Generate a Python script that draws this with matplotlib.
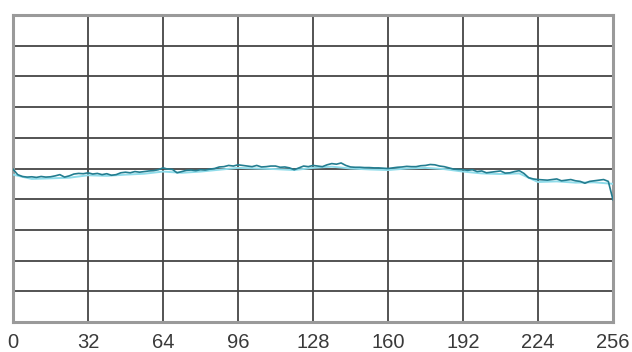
import numpy as np
import matplotlib
matplotlib.use("Agg")
import matplotlib.pyplot as plt

# Sample positions (0..256) and measured levels
x_main = np.arange(0, 257, 2)
y_main = [
    4.98, 4.80, 4.74, 4.72, 4.73, 4.71, 4.74, 4.72, 4.73, 4.76,
    4.80, 4.72, 4.76, 4.82, 4.84, 4.83, 4.86, 4.82, 4.84, 4.80,
    4.83, 4.78, 4.80, 4.86, 4.88, 4.86, 4.90, 4.88, 4.90, 4.92,
    4.93, 4.96, 5.02, 4.98, 4.97, 4.86, 4.90, 4.94, 4.95, 4.93,
    4.96, 4.95, 4.98, 5.00, 5.05, 5.06, 5.10, 5.08, 5.12, 5.10,
    5.08, 5.06, 5.10, 5.05, 5.06, 5.08, 5.08, 5.04, 5.05, 5.02,
    4.96, 5.02, 5.08, 5.06, 5.10, 5.08, 5.06, 5.12, 5.16, 5.14,
    5.18, 5.10, 5.05, 5.04, 5.04, 5.03, 5.03, 5.02, 5.02, 5.01,
    5.00, 5.02, 5.04, 5.05, 5.07, 5.06, 5.06, 5.09, 5.10, 5.13,
    5.12, 5.08, 5.06, 5.02, 4.98, 4.97, 4.96, 4.94, 4.96, 4.90,
    4.92, 4.86, 4.88, 4.90, 4.92, 4.85, 4.86, 4.90, 4.93, 4.84,
    4.70, 4.66, 4.64, 4.63, 4.62, 4.64, 4.66, 4.60, 4.62, 4.64,
    4.60, 4.58, 4.52, 4.58, 4.60, 4.62, 4.64, 4.58, 3.98,
]

x_ref = np.arange(0, 257, 8)
y_ref = [
    4.80, 4.66, 4.68, 4.70, 4.78, 4.76, 4.80, 4.83, 4.90, 4.86,
    4.90, 4.96, 5.02, 5.00, 4.98, 4.95, 5.02, 5.06, 5.00, 4.97,
    4.95, 5.00, 5.02, 4.98, 4.90, 4.84, 4.82, 4.84, 4.56, 4.58,
    4.54, 4.55, 4.50,
]

x_ticks = [0, 32, 64, 96, 128, 160, 192, 224, 256]
x_tick_labels = ["0", "32", "64", "96", "128", "160", "192", "224", "256"]
y_grid = np.arange(0, 11, 1)

fig = plt.figure(figsize=(6.32, 3.52), dpi=100)
ax = fig.add_axes([13 / 632, 30 / 352, 600 / 632, 307 / 352])

ax.plot(x_ref, y_ref, color="#8fdcea", lw=1.4, zorder=3)
ax.plot(x_main, y_main, color="#237d90", lw=1.2, zorder=4)

ax.set_xlim(0, 256)
ax.set_ylim(0, 10)
ax.set_xticks(x_ticks)
ax.set_xticklabels(x_tick_labels, fontsize=14.5, family="Liberation Sans",
                   color="#3a3a3a")
ax.set_yticks(y_grid)
ax.set_yticklabels([])
ax.tick_params(axis="both", length=0, pad=8)
ax.grid(True, color="#454545", lw=1.3, zorder=1)
ax.set_axisbelow(True)
for s in ax.spines.values():
    s.set_color("#9a9a9a")
    s.set_linewidth(2.2)

fig.savefig("out.png", dpi=100)
